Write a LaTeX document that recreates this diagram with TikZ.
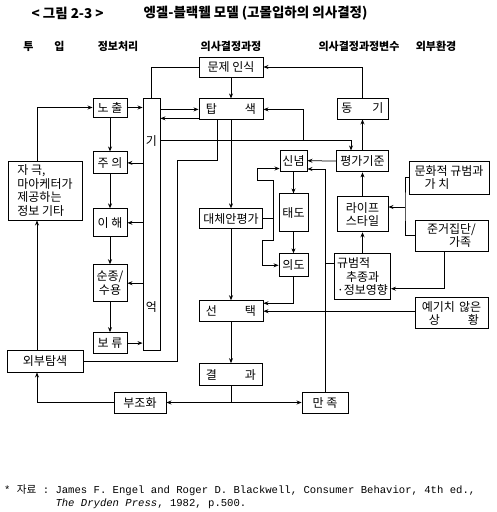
\documentclass[tikz,border=0pt]{standalone}
\usepackage{fontspec}
\setmainfont{Noto Sans CJK KR}
\setmonofont{Liberation Mono}
\newfontfamily\krfont{Noto Sans CJK KR}
\usepackage{tikz}
\usetikzlibrary{arrows.meta,positioning}

\begin{document}
\begin{tikzpicture}[
  x=1pt, y=-1pt,
  font=\fontsize{12}{13.5}\selectfont,
  stage/.style={draw=black, line width=0.9pt, align=center, inner sep=1.5pt},
  boxsize/.style 2 args={minimum width=#1pt, minimum height=#2pt},
  header/.style={font=\fontsize{11}{13}\selectfont\bfseries},
  titletext/.style={font=\fontsize{13.5}{15}\selectfont\bfseries},
  link/.style={draw=black, line width=0.75pt},
  flow/.style={link, -{Stealth[length=5pt,width=4pt]}}
]
\useasboundingbox (0,0) rectangle (496,512);

\node[titletext, anchor=west] (fignum) at (28,13) {< 그림 2-3 >};
\node[titletext, anchor=west] (figtitle) at (140,13) {엥겔-블랙웰 모델 (고몰입하의 의사결정)};

\node[header] (hinput) at (44,46) {투\hspace{21pt}입};
\node[header] (hproc) at (118,46) {정보처리};
\node[header] (hdec) at (231,46) {의사결정과정};
\node[header] (hvar) at (359,46) {의사결정과정변수};
\node[header] (henv) at (436,46) {외부환경};

% information processing
\node[stage, boxsize={17}{252}] (memory) at (151.5,224) {기\\[153pt]억};
\node[stage, boxsize={34}{19}] (expo) at (110,107.5) {노 출};
\node[stage, boxsize={34}{22}, below=34pt of expo] (atten) {주 의};
\node[stage, boxsize={34}{28}, below=34pt of atten] (compr) {이 해};
\node[stage, boxsize={34}{37}, below=27pt of compr] (accept) {순종/\\수용};
\node[stage, boxsize={34}{21}, below=30pt of accept] (retain) {보 류};
\node[stage, boxsize={74}{59}, align=left] (stim) at (45,190.5) {자 극,\\마아케터가\\제공하는\\정보 기타};
\node[stage, boxsize={76}{22}] (extsrch) at (45,361) {외부탐색};

% decision process
\node[stage, boxsize={64}{20}] (recog) at (231,67) {문제 인식};
\node[stage, boxsize={64}{21}, below=21pt of recog] (search) {탑\hspace{28pt}색};
\node[stage, boxsize={63}{20}, below=88pt of search] (altev) {대체안평가};
\node[stage, boxsize={64}{21}, below=71pt of altev] (choice) {선\hspace{28pt}택};
\node[stage, boxsize={63}{22}, below=41pt of choice] (result) {결\hspace{28pt}과};
\node[stage, boxsize={52}{21}] (dissn) at (140,402.5) {부조화};
\node[stage, boxsize={46}{21}] (satis) at (325,402.5) {만 족};

% decision variables
\node[stage, boxsize={27}{21}] (belief) at (293.5,160.5) {신념};
\node[stage, boxsize={29}{38}, below=22pt of belief] (attit) {태도};
\node[stage, boxsize={29}{23}, below=21pt of attit] (intent) {의도};
\node[stage, boxsize={51}{21}] (motiv) at (362.5,108.5) {동\hspace{20pt}기};
\node[stage, boxsize={52}{21}, below=31pt of motiv] (crit) {평가기준};
\node[stage, boxsize={51}{35}, below=24pt of crit] (life) {라이프\\스타일};
\node[stage, boxsize={56}{46}, below=21pt of life, align=left] (norm) {규범적\\\hspace*{9pt}추종과\\·정보영향};

% external environment
\node[stage, boxsize={80}{33}, align=left] (culture) at (449,177.5) {문화적 규범과\\\hspace*{10pt}가 치};
\node[stage, boxsize={73}{31}, align=left] (refgrp) at (451.5,235.5) {준거집단/\\\hspace*{22pt}가족};
\node[stage, boxsize={73}{31}, below=46pt of refgrp, align=left] (unexp) {예기치\hspace{4pt}않은\\\hspace*{7pt}상\hspace{28pt}황};

\coordinate (mbus) at (351,140);
\coordinate (sjoin) at (303,140);
\coordinate (sdrop) at (217,160);
\coordinate (ebend) at (177,160);
\coordinate (vbus) at (325,169);
\coordinate (abus) at (273,217);
\coordinate (ajog1) at (273,180);
\coordinate (ajog2) at (257,180);
\coordinate (ajog3) at (273,240);
\coordinate (ajog4) at (262,240);
\coordinate (cbus) at (405,207);
\coordinate (sback) at ([yshift=2pt]search.south west);
\coordinate (nlink) at ([yshift=13pt]norm.west);
\coordinate (rsplit) at (result.south |- dissn.east);

\draw[flow] (recog) -- (search);
\draw[link] (memory.north) |- (recog.west);
\draw[flow] (motiv.north) |- (recog.east);
\draw[flow] (expo.east) -- (expo.east -| memory.west);
\draw[flow] (memory.east |- search.west) -- (search.west);
\draw[flow] (sback) -- (sback -| memory.east);
\draw[flow] (memory.east |- mbus) -- (mbus) -- (mbus |- crit.north);
\draw[flow] (sjoin) |- (search.east);
\draw[flow] (search) -- (altev);
\draw[link] (search.south -| sdrop) -- (sdrop) -- (ebend) |- (extsrch.east);

\draw[flow] (expo) -- (atten);
\draw[flow] (atten) -- (compr);
\draw[flow] (compr) -- (accept);
\draw[flow] (accept) -- (retain);
\draw[flow] (atten.east -| memory.west) -- (atten.east);
\draw[flow] (compr.east -| memory.west) -- (compr.east);
\draw[flow] (accept.east -| memory.west) -- (accept.east);
\draw[flow] (retain.east) -- (retain.east -| memory.west);
\draw[flow] ([xshift=-8pt]stim.north) |- (expo.west);
\draw[flow] ([xshift=-8pt]extsrch.north) -- ([xshift=-8pt]stim.south);
\draw[flow] (dissn.west) -| ([xshift=-8pt]extsrch.south);

\draw[flow] (altev) -- (choice);
\draw[flow] (choice) -- (result);
\draw[link] (result.south) -- (rsplit);
\draw[flow] (rsplit) -- (dissn.east);
\draw[flow] (rsplit) -- (satis.west);

\draw[flow] (satis.north) -- (vbus) -- (vbus -| belief.east);
\draw[link] (nlink) -- (nlink -| vbus);
\draw[flow] (crit) -- (belief);
\draw[flow] (crit) -- (motiv);
\draw[flow] (life) -- (crit);
\draw[flow] (norm) -- (life);
\draw[flow] (unexp.west |- choice.east) -- (choice.east);
\draw[flow] (belief) -- (attit);
\draw[flow] (attit) -- (intent);
\draw[flow] (intent.south) |- ([yshift=-3pt]choice.north east);
\draw[flow] (altev.east) -| (ajog1) -- (ajog2) |- ([yshift=-8pt]belief.west);
\draw[flow] (abus) -- (ajog3) -- (ajog4) |- (intent.west);

\draw[link] (culture.west) -| (cbus) |- (refgrp.west);
\draw[flow] (cbus) -- (cbus -| life.east);
\draw[flow] ([xshift=-7pt]refgrp.south) |- ([yshift=-12pt]norm.east);

\node[anchor=west, inner sep=0pt, align=left, font=\fontsize{10.6}{13}\selectfont\ttfamily] (source) at (4,496.5)
  {* {\krfont 자료} : James F. Engel and Roger D. Blackwell, Consumer Behavior, 4th ed.,\\
   \phantom{* {\krfont 자료} : }\textit{The Dryden Press}, 1982, p.500.};
\end{tikzpicture}
\end{document}
